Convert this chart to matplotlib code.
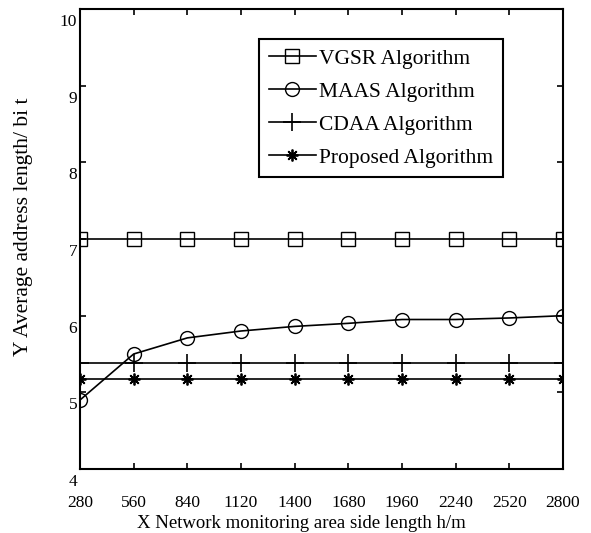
import matplotlib
matplotlib.use("Agg")
import matplotlib.pyplot as plt
import matplotlib.transforms as mtransforms

plt.rcParams["font.family"] = ["Liberation Serif", "DejaVu Serif"]

x_values = [280, 560, 840, 1120, 1400, 1680, 1960, 2240, 2520, 2800]
vgsr = [7.0, 7.0, 7.0, 7.0, 7.0, 7.0, 7.0, 7.0, 7.0, 7.0]
maas = [4.9, 5.5, 5.71, 5.80, 5.86, 5.90, 5.95, 5.95, 5.97, 6.0]
cdaa = [5.38, 5.38, 5.38, 5.38, 5.38, 5.38, 5.38, 5.38, 5.38, 5.38]
proposed = [5.18, 5.18, 5.18, 5.18, 5.18, 5.18, 5.18, 5.18, 5.18, 5.18]
y_ticks = [4, 5, 6, 7, 8, 9, 10]

fig = plt.figure(figsize=(5.91, 5.33), dpi=100)
ax = fig.add_axes([80 / 591, 64 / 533, 483 / 591, 460 / 533])

lw = 1.2
ax.plot(x_values, vgsr, color="black", lw=lw, marker="s", ms=10.5,
        mfc="none", mec="black", mew=1.0, label="VGSR Algorithm")
ax.plot(x_values, maas, color="black", lw=lw, marker="o", ms=10,
        mfc="none", mec="black", mew=1.0, label="MAAS Algorithm")
ax.plot(x_values, cdaa, color="black", lw=lw, marker="+", ms=13,
        mew=1.2, label="CDAA Algorithm")
ax.plot(x_values, proposed, color="black", lw=lw, marker=(8, 2, 0), ms=8.5,
        mew=1.3, label="Proposed Algorithm")

ax.set_xlim(280, 2800)
ax.set_ylim(4, 10)
ax.set_xticks(x_values)
ax.set_yticks(y_ticks)

for sp in ax.spines.values():
    sp.set_linewidth(1.5)

ax.tick_params(direction="in", top=True, right=True, length=4, width=1.2,
               labelsize=12.5)
ax.tick_params(axis="x", pad=18.5)
ax.tick_params(axis="y", pad=2)

# y tick labels sit a little below their ticks in the original
offset = mtransforms.ScaledTranslation(0, -11 / 100, fig.dpi_scale_trans)
for lab in ax.get_yticklabels():
    lab.set_transform(lab.get_transform() + offset)

ax.set_xlabel("X Network monitoring area side length h/m", fontsize=13.5)
ax.set_ylabel("Y Average address length/ bi t", fontsize=15.5)
ax.xaxis.set_label_coords(0.458, -0.100)
ax.yaxis.set_label_coords(-0.097, 0.526)

leg = ax.legend(loc="upper right", bbox_to_anchor=(0.876, 0.935),
                borderaxespad=0, fontsize=15.5, fancybox=False,
                edgecolor="black", framealpha=1, handlelength=2.2,
                handletextpad=0.15, labelspacing=0.6, borderpad=0.45)
leg.get_frame().set_linewidth(1.5)

fig.savefig("out.png", dpi=100)
